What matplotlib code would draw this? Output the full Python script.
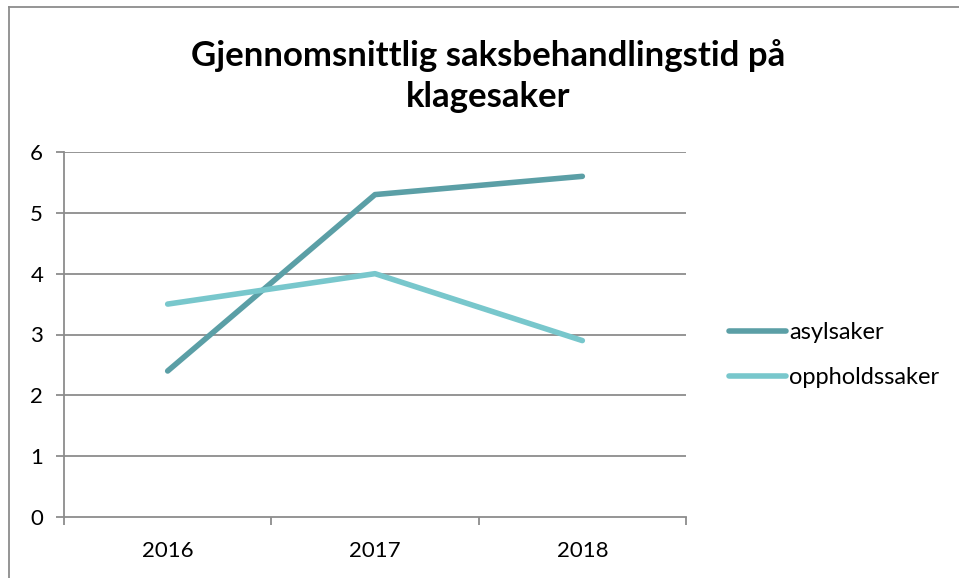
import matplotlib
matplotlib.use("Agg")
import matplotlib.pyplot as plt
from matplotlib.lines import Line2D

years = ["2016", "2017", "2018"]
asylsaker = [2.4, 5.3, 5.6]
oppholdssaker = [3.5, 4.0, 2.9]
title = "Gjennomsnittlig saksbehandlingstid på\nklagesaker"

plt.rcParams['font.family'] = ['Lato', 'DejaVu Sans']

W, H = 959, 578
fig = plt.figure(figsize=(W/100, H/100), dpi=100)
ax = fig.add_axes([64/W, (H-517)/H, (686-64)/W, (517-152)/H])

x = list(range(len(years)))
c1 = '#5B9FA6'
c2 = '#78C7CC'
ax.plot(x, asylsaker, color=c1, lw=4, solid_capstyle='round', label='asylsaker', zorder=3)
ax.plot(x, oppholdssaker, color=c2, lw=4, solid_capstyle='round', label='oppholdssaker', zorder=3)

ax.set_xlim(-0.5, len(years) - 0.5)
ax.set_ylim(0, 6)
ax.set_yticks(range(0, 7))
grid_c = '#8C8C8C'
for v in range(1, 7):
    ax.axhline(v, color=grid_c, lw=1.3, zorder=1)
ax.set_xticks([i - 0.5 for i in range(len(years) + 1)])
ax.set_xticklabels([])
ax.set_xticks(x, minor=True)
ax.set_xticklabels(years, minor=True)
ax.tick_params(axis='x', which='major', length=6, width=1.3, color=grid_c)
ax.tick_params(axis='x', which='minor', length=0, pad=17, labelsize=16)
ax.tick_params(axis='y', length=6, width=1.3, color=grid_c, labelsize=16, pad=9)
for s in ['top', 'right']:
    ax.spines[s].set_visible(False)
for s in ['left', 'bottom']:
    ax.spines[s].set_color(grid_c)
    ax.spines[s].set_linewidth(1.3)

fig.text(488/W, 1 - 76/H, title, ha='center', va='center', fontsize=25,
         fontweight='bold', linespacing=1.35)

leg = ax.legend(loc='center left', bbox_to_anchor=(708/W, (H-355)/H),
                bbox_transform=fig.transFigure, frameon=False, fontsize=17,
                handlelength=2.4, handletextpad=0.15, labelspacing=1.0)

# outer chart border (left and top visible)
fig.add_artist(Line2D([9/W, 9/W], [0, 1 - 7/H], transform=fig.transFigure, color='#8C8C8C', lw=1.3))
fig.add_artist(Line2D([9/W, 1], [1 - 7/H, 1 - 7/H], transform=fig.transFigure, color='#8C8C8C', lw=1.3))

fig.savefig('out.png', dpi=100)
